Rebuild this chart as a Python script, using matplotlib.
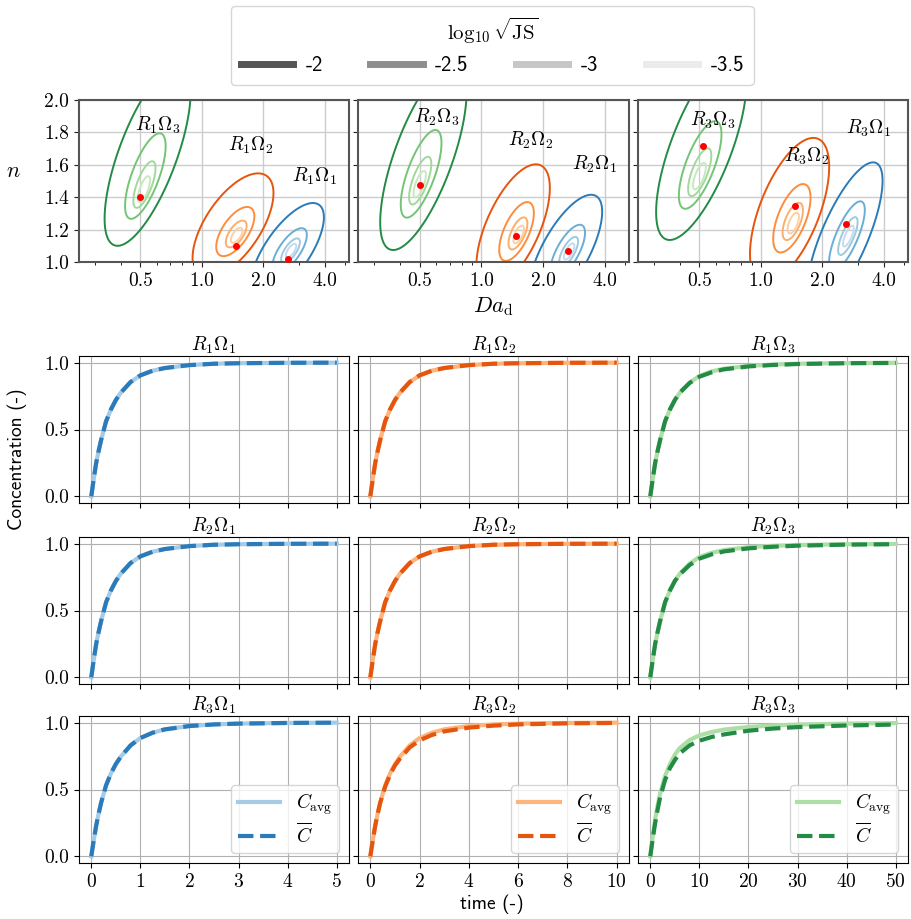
import numpy as np
import matplotlib.pyplot as plt
from matplotlib.lines import Line2D
from matplotlib.ticker import FixedLocator, FixedFormatter, NullFormatter

plt.rcParams['font.family'] = 'serif'
plt.rcParams['font.serif'] = ['cmr10']
plt.rcParams['mathtext.fontset'] = 'cm'
plt.rcParams['axes.formatter.use_mathtext'] = True
plt.rcParams['font.size'] = 14

# ---------------- data ----------------
# contour levels of log10 sqrt(JS) and the relative size of each contour
js_levels = ['-2', '-2.5', '-3', '-3.5']
js_radius = [7.0, 3.3, 1.8, 1.0]
js_greys = ['#555555', '#8e8e8e', '#c6c6c6', '#ebebeb']

# posterior ellipses, rows = R1..R3, columns = Omega1..Omega3
da_centre = [[2.73, 1.48, 0.52], [2.68, 1.52, 0.50], [2.68, 1.44, 0.50]]
n_centre = [[1.07, 1.165, 1.45], [1.065, 1.17, 1.48], [1.16, 1.24, 1.53]]
da_width = [[0.085, 0.094, 0.10], [0.085, 0.085, 0.10], [0.088, 0.092, 0.105]]   # in log2(Da)
n_height = [[0.042, 0.046, 0.08], [0.05, 0.055, 0.082], [0.065, 0.064, 0.082]]
tilt = [[0.7, 0.62, 0.7], [0.7, 0.62, 0.7], [0.75, 0.6, 0.7]]
da_drift = [[-0.01, -0.01, 0.01], [-0.01, -0.015, 0.01], [-0.01, -0.01, 0.005]]
n_drift = [[0.0, 0.01, 0.035], [0.0, 0.008, 0.028], [0.0, 0.013, 0.03]]

# true parameters (red dots)
true_da = [[2.64, 1.47, 0.50], [2.64, 1.47, 0.50], [2.62, 1.46, 0.52]]
true_n = [[1.018, 1.10, 1.40], [1.07, 1.16, 1.475], [1.233, 1.346, 1.718]]

# label positions
label_da = [[3.58, 1.73, 0.61], [3.58, 1.74, 0.61], [3.39, 1.68, 0.58]]
label_n = [[1.53, 1.72, 1.846], [1.60, 1.75, 1.89], [1.825, 1.65, 1.877]]

# concentration curves
t_cols = [
    [0, 0.05, 0.1, 0.15, 0.2, 0.3, 0.4, 0.5, 0.6, 0.8, 1.0, 1.25, 1.5, 2.0, 2.5, 3.0, 4.0, 5.0],
    [0, 0.1, 0.2, 0.3, 0.4, 0.6, 0.8, 1.0, 1.2, 1.6, 2.0, 2.5, 3.0, 4.0, 5.0, 6.0, 8.0, 10.0],
    [0, 0.5, 1, 1.5, 2, 3, 4, 5, 6, 8, 10, 12.5, 15, 20, 25, 30, 40, 50],
]
c_avg = [
    [[0, 0.13, 0.25, 0.34, 0.42, 0.56, 0.65, 0.72, 0.775, 0.855, 0.905, 0.94, 0.96, 0.982, 0.992, 0.996, 0.999, 1.0],
     [0, 0.13, 0.25, 0.34, 0.42, 0.56, 0.65, 0.72, 0.775, 0.855, 0.905, 0.94, 0.96, 0.982, 0.992, 0.996, 0.999, 1.0],
     [0, 0.13, 0.25, 0.34, 0.42, 0.56, 0.65, 0.72, 0.775, 0.85, 0.9, 0.935, 0.955, 0.976, 0.986, 0.992, 0.997, 0.999]],
    [[0, 0.13, 0.25, 0.34, 0.42, 0.56, 0.65, 0.72, 0.775, 0.855, 0.905, 0.94, 0.96, 0.982, 0.992, 0.996, 0.999, 1.0],
     [0, 0.13, 0.25, 0.34, 0.42, 0.56, 0.65, 0.72, 0.775, 0.855, 0.905, 0.94, 0.96, 0.982, 0.992, 0.996, 0.999, 1.0],
     [0, 0.13, 0.25, 0.34, 0.42, 0.56, 0.65, 0.72, 0.775, 0.85, 0.9, 0.932, 0.952, 0.974, 0.984, 0.99, 0.996, 0.998]],
    [[0, 0.12, 0.23, 0.32, 0.40, 0.53, 0.62, 0.69, 0.745, 0.83, 0.885, 0.925, 0.95, 0.975, 0.987, 0.993, 0.998, 1.0],
     [0, 0.12, 0.23, 0.32, 0.40, 0.53, 0.62, 0.69, 0.745, 0.83, 0.885, 0.925, 0.95, 0.975, 0.987, 0.993, 0.998, 1.0],
     [0, 0.15, 0.28, 0.38, 0.47, 0.60, 0.69, 0.76, 0.81, 0.87, 0.905, 0.93, 0.948, 0.968, 0.979, 0.986, 0.993, 0.997]],
]
c_bar = [
    [[0, 0.13, 0.25, 0.34, 0.42, 0.56, 0.65, 0.72, 0.775, 0.855, 0.905, 0.94, 0.96, 0.982, 0.992, 0.996, 0.999, 1.0],
     [0, 0.13, 0.25, 0.34, 0.42, 0.56, 0.65, 0.72, 0.775, 0.855, 0.905, 0.94, 0.96, 0.982, 0.992, 0.996, 0.999, 1.0],
     [0, 0.13, 0.25, 0.34, 0.42, 0.56, 0.65, 0.72, 0.775, 0.848, 0.895, 0.928, 0.95, 0.972, 0.983, 0.99, 0.996, 0.998]],
    [[0, 0.13, 0.25, 0.34, 0.42, 0.56, 0.65, 0.72, 0.775, 0.855, 0.905, 0.94, 0.96, 0.982, 0.992, 0.996, 0.999, 1.0],
     [0, 0.13, 0.25, 0.34, 0.42, 0.56, 0.65, 0.72, 0.775, 0.855, 0.905, 0.94, 0.96, 0.982, 0.992, 0.996, 0.999, 1.0],
     [0, 0.13, 0.25, 0.34, 0.42, 0.56, 0.65, 0.72, 0.77, 0.84, 0.888, 0.92, 0.942, 0.965, 0.977, 0.985, 0.993, 0.996]],
    [[0, 0.12, 0.23, 0.32, 0.40, 0.53, 0.62, 0.69, 0.745, 0.83, 0.885, 0.925, 0.95, 0.975, 0.987, 0.993, 0.998, 1.0],
     [0, 0.12, 0.23, 0.32, 0.40, 0.52, 0.61, 0.68, 0.73, 0.815, 0.868, 0.908, 0.935, 0.963, 0.978, 0.987, 0.995, 0.998],
     [0, 0.13, 0.25, 0.35, 0.44, 0.57, 0.66, 0.72, 0.77, 0.83, 0.865, 0.893, 0.912, 0.94, 0.956, 0.967, 0.979, 0.986]],
]

# colours for Omega1..Omega3, from darkest (outer) to lightest (inner)
family_colors = [
    ['#2b7bba', '#6aaed6', '#9ecae1', '#c6dbef'],
    ['#e6550d', '#fd8d3c', '#fdae6b', '#fdd0a2'],
    ['#238b45', '#74c476', '#a1d99b', '#c7e9c0'],
]
avg_colors = ['#a6cbe5', '#fdb47d', '#addea6']
bar_colors = ['#2b7bba', '#e6550d', '#238b45']

W, H = 911, 919
fig = plt.figure(figsize=(W / 100, H / 100), dpi=100)


def box(x0, y0, x1, y1):
    return [x0 / W, 1 - y1 / H, (x1 - x0) / W, (y1 - y0) / H]


col_x = [(79, 349), (358, 629), (638, 908)]
row_y = [(356, 503), (537, 684), (716, 863)]

# grid in log2(Da), n
U, N = np.meshgrid(np.linspace(-2.2, 2.6, 500), np.linspace(0.6, 2.8, 500))


def radius_field(i, j):
    hu, hn, rho = da_width[i][j], n_height[i][j], tilt[i][j]
    m11 = 1 / hu ** 2 / (1 - rho ** 2)
    m22 = 1 / hn ** 2 / (1 - rho ** 2)
    m12 = -rho / (hu * hn) / (1 - rho ** 2)
    du, dn = da_drift[i][j], n_drift[i][j]
    wu = U - (np.log2(da_centre[i][j]) - du)
    wn = N - (n_centre[i][j] - dn)
    a = du * du * m11 + 2 * du * dn * m12 + dn * dn * m22 - 1
    b = du * wu * m11 + (du * wn + dn * wu) * m12 + dn * wn * m22
    c = wu * wu * m11 + 2 * wu * wn * m12 + wn * wn * m22
    return (b - np.sqrt(b * b - a * c)) / a


# ---------------- top row: posterior contours ----------------
for i in range(3):
    ax = fig.add_axes(box(col_x[i][0], 100, col_x[i][1], 262))
    for j in range(3):
        R = radius_field(i, j)
        ax.contour(2 ** U, N, R, levels=sorted(js_radius),
                   colors=family_colors[j][::-1], linewidths=1.4)
        ax.plot(true_da[i][j], true_n[i][j], 'o', color='red', ms=4, zorder=5)
        ax.text(label_da[i][j], label_n[i][j], r'$R_%d\Omega_%d$' % (i + 1, j + 1),
                ha='center', va='center', fontsize=14)
    ax.set_xscale('log', base=2)
    ax.set_xlim(0.25, 5.25)
    ax.set_ylim(1.0, 2.0)
    ax.xaxis.set_major_locator(FixedLocator([0.5, 1.0, 2.0, 4.0]))
    ax.xaxis.set_major_formatter(FixedFormatter(['0.5', '1.0', '2.0', '4.0']))
    ax.xaxis.set_minor_locator(FixedLocator([0.3, 0.4, 0.6, 0.7, 0.8, 0.9, 3.0, 5.0]))
    ax.xaxis.set_minor_formatter(NullFormatter())
    ax.set_yticks([1.0, 1.2, 1.4, 1.6, 1.8, 2.0])
    ax.grid(True, color='#cccccc', lw=1.0)
    ax.set_axisbelow(True)
    for s in ax.spines.values():
        s.set_color('#555555')
        s.set_linewidth(1.5)
    ax.tick_params(colors='#222222', labelcolor='black', labelsize=14)
    if i == 0:
        ax.yaxis.set_major_formatter(FixedFormatter(['1.0', '1.2', '1.4', '1.6', '1.8', '2.0']))
        ax.set_ylabel('$n$', rotation=0, fontsize=16, labelpad=22)
    else:
        ax.set_yticklabels([])
    if i == 1:
        ax.set_xlabel(r'$Da_{\mathrm{d}}$', fontsize=16)

handles = [Line2D([], [], color=c, lw=5) for c in js_greys]
fig.legend(handles, js_levels, loc='upper center', bbox_to_anchor=(0.5406, 1.0), ncol=4,
           title=r'$\log_{10}\sqrt{\mathrm{JS}}$', title_fontsize=15,
           prop={'family': 'cmss10', 'size': 15}, handlelength=2.5,
           handletextpad=0.6, columnspacing=2.3, borderpad=0.45, borderaxespad=0.3)

# ---------------- concentration curves ----------------
t_max = [5, 10, 50]
t_ticks = [[0, 1, 2, 3, 4, 5], [0, 2, 4, 6, 8, 10], [0, 10, 20, 30, 40, 50]]
for i in range(3):
    for j in range(3):
        ax = fig.add_axes(box(col_x[j][0], row_y[i][0], col_x[j][1], row_y[i][1]))
        ax.plot(t_cols[j], c_avg[i][j], color=avg_colors[j], lw=3, label=r'$C_{\mathrm{avg}}$')
        ax.plot(t_cols[j], c_bar[i][j], '--', color=bar_colors[j], lw=3, label=r'$\overline{C}$')
        ax.set_title(r'$R_%d\Omega_%d$' % (i + 1, j + 1), fontsize=14, pad=3)
        ax.set_xlim(-0.05 * t_max[j], 1.05 * t_max[j])
        ax.set_ylim(-0.05, 1.05)
        ax.set_xticks(t_ticks[j])
        ax.set_yticks([0.0, 0.5, 1.0])
        ax.grid(True, color='#b0b0b0', lw=0.8)
        ax.tick_params(labelsize=14)
        if j == 0:
            ax.set_yticklabels(['0.0', '0.5', '1.0'])
        else:
            ax.set_yticklabels([])
        if i < 2:
            ax.set_xticklabels([])
        else:
            ax.legend(loc='lower right', fontsize=14, handlelength=2.2,
                      labelspacing=0.25, borderpad=0.35, handletextpad=0.8)

fig.text(0.019, 0.5, 'Concentration (-)', rotation=90, ha='center', va='center',
         family='cmss10', fontsize=14)
fig.text(0.54, 0.016, 'time (-)', ha='center', va='center', family='cmss10', fontsize=14)

fig.savefig('out.png', dpi=100)
